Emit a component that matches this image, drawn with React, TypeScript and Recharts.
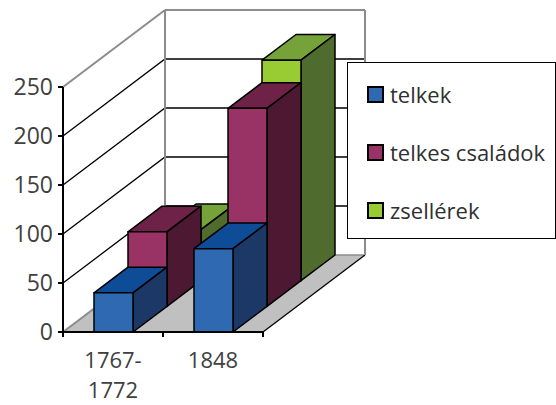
import { BarChart, Bar, XAxis, YAxis, CartesianGrid } from 'recharts';

const categories = ['1767-1772', '1848'];
const telkek = [40, 85];
const telkesCsaladok = [76, 202];
const zsellerek = [52, 225];
const yTicks = [0, 50, 100, 150, 200, 250];

const data = categories.map((category, i) => ({
    category,
    telkek: telkek[i],
    csaladok: telkesCsaladok[i],
    zsellerek: zsellerek[i],
}));

// front-to-back rows, row 0 is nearest to the viewer
const series = [
    { key: 'telkek', name: 'telkek', row: 0, front: '#2f69b2', top: '#0e4c98', side: '#1c3866' },
    { key: 'csaladok', name: 'telkes családok', row: 1, front: '#993366', top: '#6e2248', side: '#4d1831' },
    { key: 'zsellerek', name: 'zsellérek', row: 2, front: '#99cc33', top: '#76a23a', side: '#4f6b2d' },
];

const W = 556;
const H = 405;
const PLOT_LEFT = 63;
const PLOT_TOP = 87;
const PLOT_W = 200;
const PLOT_BOTTOM = 332;
const DEPTH_X = 102;
const DEPTH_Y = 77;
const ROW_DX = DEPTH_X / series.length;
const ROW_DY = DEPTH_Y / series.length;
const FONT = '"Open Sans", "Noto Sans", sans-serif';
const TEXT = '#404040';
const FRAME = '#8c8c8c';

function Box3D(props: any) {
    const { x, y, width, height, row, front, top, side } = props;
    if (x == null || !width) return null;
    const x0 = x + row * ROW_DX;
    const y0 = y - row * ROW_DY;
    const x1 = x0 + width;
    const y1 = y0 + height;
    const pts = (p: number[][]) => p.map((q) => q.join(',')).join(' ');
    return (
        <g stroke="#000" strokeWidth={1.5} strokeLinejoin="round">
            <polygon points={pts([[x0, y0], [x1, y0], [x1 + ROW_DX, y0 - ROW_DY], [x0 + ROW_DX, y0 - ROW_DY]])} fill={top} />
            <polygon points={pts([[x1, y0], [x1 + ROW_DX, y0 - ROW_DY], [x1 + ROW_DX, y1 - ROW_DY], [x1, y1]])} fill={side} />
            <rect x={x0} y={y0} width={width} height={height} fill={front} />
        </g>
    );
}

function GridLine(props: any) {
    const { x1, x2, y1, index } = props;
    const top = Number.isFinite(props.y) ? props.y : PLOT_TOP;
    const bottom = Number.isFinite(props.y) && Number.isFinite(props.height) ? props.y + props.height : PLOT_BOTTOM;
    const bx1 = x1 + DEPTH_X;
    const bx2 = x2 + DEPTH_X;
    const by = y1 - DEPTH_Y;
    if (Math.abs(y1 - bottom) < 0.5) {
        return (
            <g key={`grid-${index}`}>
                <polygon points={`${x1},${y1} ${x2},${y1} ${bx2},${by} ${bx1},${by}`} fill="#c0c0c0" />
                <line x1={bx1} y1={by} x2={bx2} y2={by} stroke={FRAME} strokeWidth={1.5} />
                <line x1={x1} y1={y1} x2={bx1} y2={by} stroke={FRAME} strokeWidth={2} />
                <line x1={x2} y1={y1} x2={bx2} y2={by} stroke="#000" strokeWidth={1.3} />
            </g>
        );
    }
    if (Math.abs(y1 - top) < 0.5) {
        return (
            <g key={`grid-${index}`} stroke={FRAME} strokeWidth={2}>
                <line x1={bx1} y1={by} x2={bx1} y2={bottom - DEPTH_Y} />
                <line x1={bx2} y1={by} x2={bx2} y2={bottom - DEPTH_Y} />
                <line x1={x1} y1={y1} x2={bx1} y2={by} />
                <line x1={bx1} y1={by} x2={bx2} y2={by} />
            </g>
        );
    }
    return (
        <g key={`grid-${index}`} stroke="#000" strokeWidth={1.3} fill="none">
            <polyline points={`${x1},${y1} ${bx1},${by} ${bx2},${by}`} />
        </g>
    );
}

function XTick(props: any) {
    const { x, y, payload, index, visibleTicksCount } = props;
    const half = PLOT_W / categories.length / 2;
    const label = String(payload.value);
    const cut = label.indexOf('-');
    const lines = cut >= 0 ? [label.slice(0, cut + 1), label.slice(cut + 1)] : [label];
    return (
        <g>
            <line x1={x - half} y1={y} x2={x - half} y2={y + 5} stroke="#000" strokeWidth={2} />
            {index === visibleTicksCount - 1 && (
                <line x1={x + half} y1={y} x2={x + half} y2={y + 5} stroke="#000" strokeWidth={2} />
            )}
            <text x={x} y={y + 36} textAnchor="middle" fill={TEXT} fontSize={22} fontFamily={FONT}>
                {lines.map((l, i) => (
                    <tspan key={i} x={x} dy={i === 0 ? 0 : 30}>{l}</tspan>
                ))}
            </text>
        </g>
    );
}

export default function App() {
    return (
        <div style={{ position: 'absolute', left: 0, top: 0, width: W, height: H, background: '#fff', fontFamily: FONT }}>
            <BarChart
                width={W}
                height={H}
                data={data}
                margin={{ top: PLOT_TOP, right: W - PLOT_LEFT - PLOT_W, bottom: H - PLOT_BOTTOM - 60, left: 0 }}
            >
                <CartesianGrid xAxisId={0} vertical={false} horizontal={GridLine} />
                {series.map((s) => (
                    <XAxis
                        key={s.key}
                        xAxisId={s.row}
                        dataKey="category"
                        hide={s.row !== 0}
                        height={60}
                        interval={0}
                        tickSize={0}
                        tickMargin={0}
                        tickLine={false}
                        axisLine={{ stroke: '#000', strokeWidth: 2 }}
                        tick={<XTick />}
                    />
                ))}
                <YAxis
                    width={PLOT_LEFT}
                    domain={[0, 250]}
                    ticks={yTicks}
                    interval={0}
                    tickSize={5}
                    tickMargin={5}
                    axisLine={{ stroke: '#000', strokeWidth: 2 }}
                    tickLine={{ stroke: '#000', strokeWidth: 2 }}
                    tick={{ fill: TEXT, fontSize: 23, fontFamily: FONT }}
                />
                {[...series].reverse().map((s) => (
                    <Bar
                        key={s.key}
                        xAxisId={s.row}
                        dataKey={s.key}
                        name={s.name}
                        barSize={39}
                        isAnimationActive={false}
                        shape={(p: any) => <Box3D {...p} row={s.row} front={s.front} top={s.top} side={s.side} />}
                    />
                ))}
            </BarChart>
            <div
                style={{
                    position: 'absolute',
                    left: 347,
                    top: 62,
                    width: 207,
                    height: 175,
                    border: '1px solid #000',
                    background: '#fff',
                }}
            >
                {series.map((s, i) => (
                    <div
                        key={s.key}
                        style={{
                            position: 'absolute',
                            left: 19,
                            top: 17 + i * 58,
                            height: 28,
                            display: 'flex',
                            alignItems: 'center',
                            whiteSpace: 'nowrap',
                            fontSize: 22,
                            color: '#303030',
                        }}
                    >
                        <span
                            style={{
                                display: 'inline-block',
                                width: 13,
                                height: 13,
                                background: s.front,
                                border: '2px solid #000',
                                marginRight: 6,
                            }}
                        />
                        {s.name}
                    </div>
                ))}
            </div>
        </div>
    );
}
